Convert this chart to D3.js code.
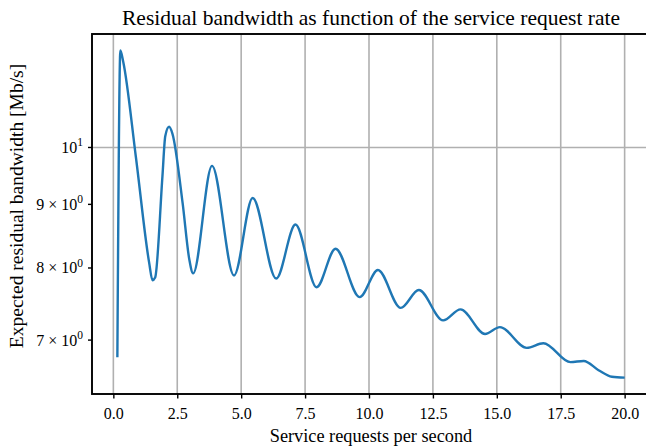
<!DOCTYPE html>
<html lang="en">
<head>
    <meta charset="UTF-8">
    <title>Residual bandwidth</title>
    <script src="https://d3js.org/d3.v7.min.js"></script>
    <style>
        body { margin: 0; background: #fff; }
        text { font-family: "Liberation Serif", "DejaVu Serif", serif; fill: #000; }
        .tick-label { font-size: 16px; }
        .x-label { font-size: 18.3px; }
        .y-label { font-size: 19.5px; }
        .title { font-size: 21.5px; }
    </style>
</head>
<body>
<div id="fig"></div>
<script>
    // service requests per second (x) and expected residual bandwidth in Mb/s (y)
    let rate = [0.157, 0.275, 0.39, 0.88, 1.40, 1.53, 1.635, 1.92, 2.03, 2.18, 2.31, 2.71, 2.97, 3.12,
        3.86, 4.72, 5.45, 6.37, 7.125, 7.95, 8.69, 9.635, 10.35, 11.24, 11.95, 12.90, 13.58, 14.54,
        15.12, 16.17, 16.82, 17.88, 18.40, 18.98, 19.5, 20.0]
    let bandwidth = [6.78, 11.97, 11.71, 9.83, 8.08, 7.82, 7.86, 9.48, 10.21, 10.39, 10.26, 9.02, 8.13, 7.92,
        9.665, 7.89, 9.107, 7.845, 8.67, 7.72, 8.29, 7.58, 7.97, 7.43, 7.68, 7.26, 7.41, 7.08,
        7.17, 6.90, 6.96, 6.72, 6.735, 6.62, 6.54, 6.53]

    let xTicks = [0, 2.5, 5, 7.5, 10, 12.5, 15, 17.5, 20]
    let yMajor = [10]
    let yMinor = [7, 8, 9]

    let W = 646, H = 448
    let pLeft = 92, pRight = 650, pTop = 34, pBottom = 394

    let svg = d3.select("#fig").append("svg")
        .attr("width", W).attr("height", H)

    // matplotlib style 5% margins
    let xExt = d3.extent(rate)
    let xPad = (xExt[1] - xExt[0]) * 0.05
    let xScale = d3.scaleLinear().domain([xExt[0] - xPad, xExt[1] + xPad]).range([pLeft, pRight])

    let yExt = d3.extent(bandwidth).map(Math.log10)
    let yPad = (yExt[1] - yExt[0]) * 0.05
    let yScale = d3.scaleLog()
        .domain([Math.pow(10, yExt[0] - yPad), Math.pow(10, yExt[1] + yPad)])
        .range([pBottom, pTop])

    // grid
    svg.append("g").selectAll("line").data(xTicks).enter().append("line")
        .attr("x1", d => xScale(d)).attr("x2", d => xScale(d))
        .attr("y1", pTop).attr("y2", pBottom)
        .attr("stroke", "#b0b0b0").attr("stroke-width", 1.6)
    svg.append("g").selectAll("line").data(yMajor).enter().append("line")
        .attr("x1", pLeft).attr("x2", pRight)
        .attr("y1", d => yScale(d)).attr("y2", d => yScale(d))
        .attr("stroke", "#b0b0b0").attr("stroke-width", 1.6)

    // curve
    let line = d3.line()
        .x((d, i) => xScale(rate[i]))
        .y((d, i) => yScale(bandwidth[i]))
        .curve(d3.curveMonotoneX)
    svg.append("path").datum(rate)
        .attr("d", line)
        .attr("fill", "none")
        .attr("stroke", "#1f77b4")
        .attr("stroke-width", 2.4)
        .attr("stroke-linejoin", "round")

    // spines
    svg.append("rect")
        .attr("x", pLeft).attr("y", pTop)
        .attr("width", pRight - pLeft).attr("height", pBottom - pTop)
        .attr("fill", "none").attr("stroke", "#000").attr("stroke-width", 1.9)

    // x axis
    let xAxis = d3.axisBottom(xScale).tickValues(xTicks).tickSize(4.5).tickPadding(6)
        .tickFormat(d3.format(".1f"))
    let gx = svg.append("g").attr("transform", `translate(0,${pBottom})`).call(xAxis)
    gx.attr("font-size", null).attr("font-family", null)
    gx.select(".domain").remove()
    gx.selectAll(".tick line").attr("stroke", "#000").attr("stroke-width", 1.4)
    gx.selectAll(".tick text").attr("class", "tick-label").attr("dy", null).attr("y", 25)

    // y axis, log ticks with latex style labels
    let yTicks = yMajor.concat(yMinor)
    let gy = svg.append("g")
    gy.selectAll("line").data(yTicks).enter().append("line")
        .attr("x1", pLeft - 4).attr("x2", pLeft)
        .attr("y1", d => yScale(d)).attr("y2", d => yScale(d))
        .attr("stroke", "#000").attr("stroke-width", 1.4)
    gy.selectAll("text").data(yTicks).enter().append("text")
        .attr("class", "tick-label")
        .attr("x", pLeft - 9)
        .attr("y", d => yScale(d) + 5.5)
        .attr("text-anchor", "end")
        .each(function (d) {
            let t = d3.select(this)
            if (d === 10) {
                t.append("tspan").text("10")
                t.append("tspan").attr("dy", -6.5).attr("font-size", "11.5px").text("1")
            } else {
                t.append("tspan").text(d + " \u00d7 10")
                t.append("tspan").attr("dy", -6.5).attr("font-size", "11.5px").text("0")
            }
        })

    // labels
    svg.append("text").attr("class", "title")
        .attr("x", (pLeft + pRight) / 2).attr("y", 25)
        .attr("text-anchor", "middle")
        .text("Residual bandwidth as function of the service request rate")
    svg.append("text").attr("class", "x-label")
        .attr("x", (pLeft + pRight) / 2).attr("y", 442)
        .attr("text-anchor", "middle")
        .text("Service requests per second")
    svg.append("text").attr("class", "y-label")
        .attr("transform", `translate(23,${(60 + 352) / 2}) rotate(-90)`)
        .attr("text-anchor", "middle")
        .text("Expected residual bandwidth [Mb/s]")
</script>
</body>
</html>
